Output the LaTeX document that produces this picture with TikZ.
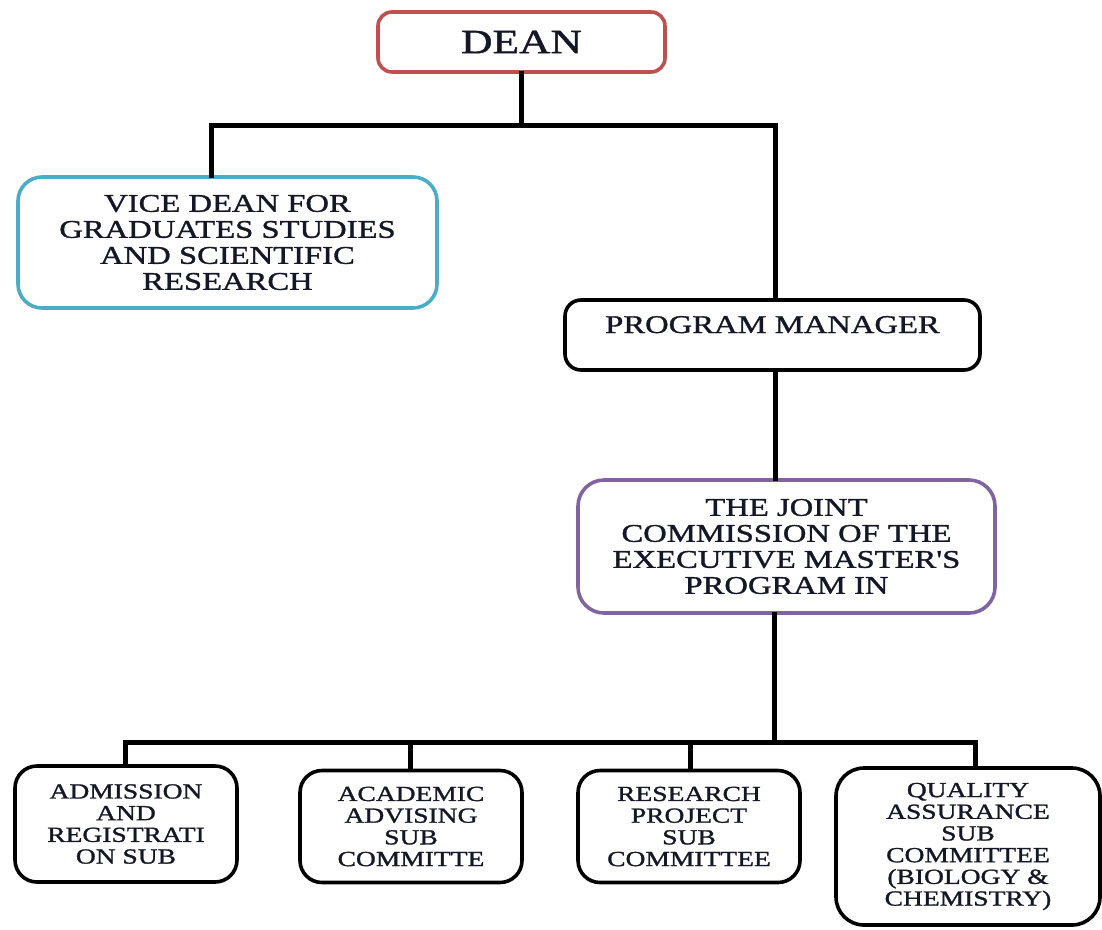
\documentclass[tikz,border=0pt]{standalone}
\usepackage{fontspec}
\setmainfont{Liberation Serif}[FakeStretch=1.28, FakeBold=1.3, Ligatures=TeXOff]
\definecolor{deanred}{HTML}{C0504D}
\definecolor{viceblue}{HTML}{4BACC6}
\definecolor{jointpurple}{HTML}{8064A2}
\definecolor{inkdark}{HTML}{141826}
\begin{document}
\begin{tikzpicture}[x=1pt,y=-1pt,
  box/.style={draw, line width=3.6pt, align=center, inner sep=0pt, text=inkdark},
  bigtext/.style={font=\fontsize{25.5}{26}\selectfont},
  smalltext/.style={font=\fontsize{21.5}{21.7}\selectfont},
  subbox/.style={box, smalltext, rounded corners=22pt, minimum width=222pt},
  conn/.style={line width=5pt, line cap=rect}
]
\useasboundingbox (0,0) rectangle (1102,929);

% top level
\node[box, draw=deanred, rounded corners=14pt, minimum width=287pt, minimum height=60pt,
      font=\fontsize{34}{36}\selectfont] (dean) at (521.5,42) {DEAN};

\node[box, bigtext, draw=viceblue, rounded corners=24pt, minimum width=419pt, minimum height=131pt]
  (vice) at (227.5,242.5) {VICE DEAN FOR\\GRADUATES STUDIES\\AND SCIENTIFIC\\RESEARCH};

\node[box, bigtext, draw=black, rounded corners=16pt, minimum width=415pt, minimum height=70pt,
      text height=17pt, text depth=21pt]
  (pm) at (772.5,335) {PROGRAM MANAGER};

\node[box, bigtext, draw=jointpurple, rounded corners=26pt, minimum width=417pt, minimum height=133pt]
  (jc) at (786.5,546.5) {THE JOINT\\COMMISSION OF THE\\EXECUTIVE MASTER'S\\PROGRAM IN};

% sub committees
\node[subbox, minimum height=116pt] (adm) at (126,824) {ADMISSION\\AND\\REGISTRATI\\ON SUB};
\node[subbox, minimum height=112pt] (aca) at (411,826.5) {ACADEMIC\\ADVISING\\SUB\\COMMITTE};
\node[subbox, minimum height=112pt] (res) at (689,826.5) {RESEARCH\\PROJECT\\SUB\\COMMITTEE};
\node[box, smalltext, rounded corners=28pt, minimum width=264pt, minimum height=157pt]
  (qua) at (968,846.5) {QUALITY\\ASSURANCE\\SUB\\COMMITTEE\\(BIOLOGY \&\\CHEMISTRY)};

% branch points
\coordinate (topL) at (211,125);
\coordinate (topR) at (775,125);
\coordinate (busM) at (774,742);
\coordinate (d1) at (125,742);
\coordinate (d2) at (410,742);
\coordinate (d3) at (690,742);
\coordinate (d4) at (975,742);

% connectors
\draw[conn] (dean.south) -- (dean.south |- topL);
\draw[conn] (vice.north -| topL) -- (topL) -- (topR) -- (pm.north -| topR);
\draw[conn] (pm.south -| topR) -- (jc.north -| topR);
\draw[conn] (jc.south -| busM) -- (busM);
\draw[conn] (d1) -- (d4);
\draw[conn] (d1) -- (adm.north -| d1);
\draw[conn] (d2) -- (aca.north -| d2);
\draw[conn] (d3) -- (res.north -| d3);
\draw[conn] (d4) -- (qua.north -| d4);
\end{tikzpicture}
\end{document}
